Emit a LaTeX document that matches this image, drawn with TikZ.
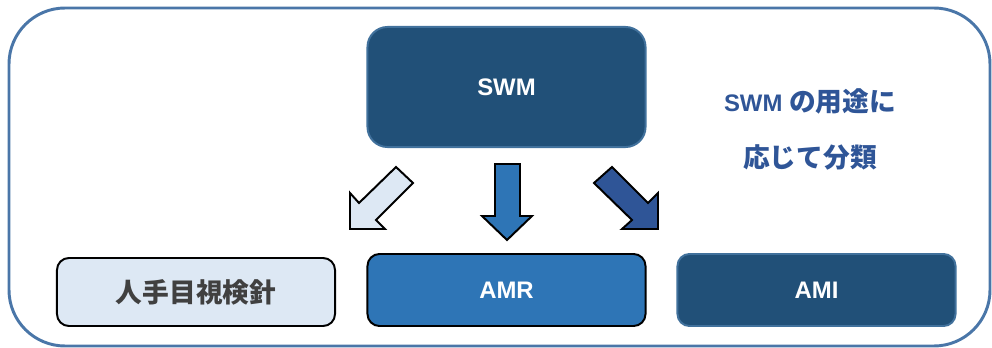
\documentclass[tikz,border=0pt]{standalone}
\usepackage{fontspec}
\setmainfont{Liberation Sans}
\newfontfamily\jp{Noto Sans CJK JP}
\definecolor{frameblue}{HTML}{4A76A8}
\definecolor{darknavy}{HTML}{215078}
\definecolor{navyedge}{HTML}{41719C}
\definecolor{midblue}{HTML}{2E75B6}
\definecolor{paleblue}{HTML}{DDE8F4}
\definecolor{royal}{HTML}{2F5597}
\definecolor{txtgray}{HTML}{404040}
\tikzset{
  box/.style={rectangle, rounded corners=0.3cm, line width=1.4pt, minimum width=6.95cm, inner sep=0pt, font=\fontsize{17}{20}\selectfont\bfseries},
  blockarrow/.style={draw=black, line width=1.4pt, line join=miter},
  caption/.style={font=\fontsize{17}{20}\selectfont\bfseries, text=royal, inner sep=0pt}
}
\begin{document}
\begin{tikzpicture}[x=0.025cm,y=-0.025cm]
\useasboundingbox (0,0) rectangle (992,348);
\draw[frameblue, line width=2.1pt, rounded corners=1.4cm] (9,8) rectangle (990,346);
\node[box, rounded corners=0.5cm, fill=darknavy, draw=navyedge, text=white, minimum height=3cm] (swm) at (506.5,87) {SWM};
\node[box, fill=paleblue, draw=black, text=txtgray, minimum height=1.7cm, font=\fontsize{19}{22}\selectfont\jp\bfseries] (manual) at (196,292) {人手目視検針};
\node[box, fill=midblue, draw=black, text=white, minimum height=1.8cm] (amr) at (506.5,290) {AMR};
\node[box, fill=darknavy, draw=navyedge, text=white, minimum height=1.8cm] (ami) at (816.5,290) {AMI};
\node[caption] (cap1) at (810,101) {SWM {\jp\fontsize{19}{22}\selectfont の用途に}};
\node[caption, font=\fontsize{19}{22}\selectfont\jp\bfseries] (cap2) at (810,157) {応じて分類};
% block arrows
\draw[blockarrow, fill=paleblue] (396,167) -- (413,183) -- (376,220) -- (385,229) -- (350,229) -- (350,193) -- (359,203) -- cycle;
\draw[blockarrow, fill=midblue] (495,164) -- (520,164) -- (520,216) -- (532,216) -- (507,240) -- (482,216) -- (495,216) -- cycle;
\draw[blockarrow, fill=royal] (612,167) -- (594,183) -- (632,220) -- (622,229) -- (658,229) -- (658,193) -- (648,203) -- cycle;
\end{tikzpicture}
\end{document}
